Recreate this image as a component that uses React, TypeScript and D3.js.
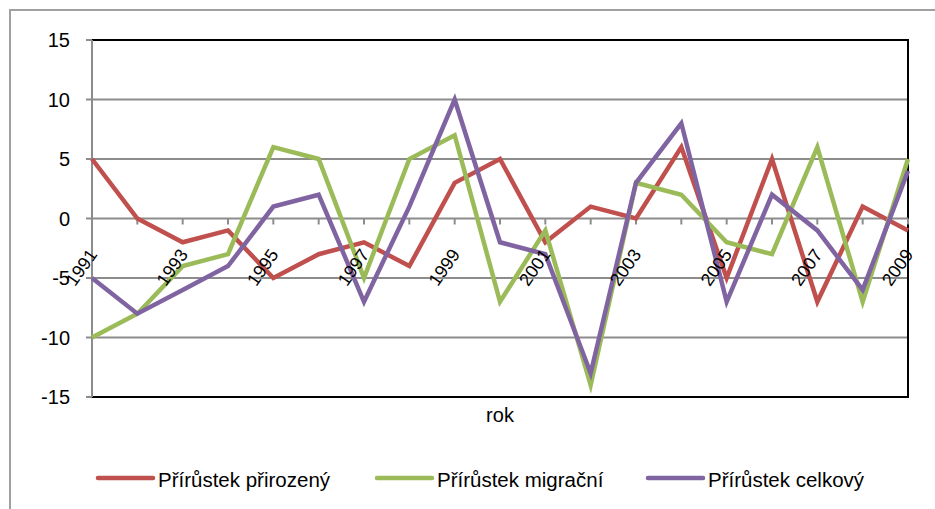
import React from "react";
import * as d3 from "d3";

const years = d3.range(1991, 2010).map(String);
const prirozeny = [5, 0, -2, -1, -5, -3, -2, -4, 3, 5, -2, 1, 0, 6, -5, 5, -7, 1, -1];
const migracni = [-10, -8, -4, -3, 6, 5, -5, 5, 7, -7, -1, -14, 3, 2, -2, -3, 6, -7, 5];
const celkovy = [-5, -8, -6, -4, 1, 2, -7, 1, 10, -2, -3, -13, 3, 8, -7, 2, -1, -6, 4];
const yTicks = [-15, -10, -5, 0, 5, 10, 15];
const seriesNames = ["Přírůstek přirozený", "Přírůstek migrační", "Přírůstek celkový"];
const seriesColors = ["#C0504D", "#9BBB59", "#8064A2"];
const xTitle = "rok";

const W = 935;
const H = 509;
const plot = { left: 92, right: 908, top: 40, bottom: 397 };
const FONT = "'Liberation Sans', Arial, sans-serif";

export default function App() {
  const x = d3.scalePoint<string>().domain(years).range([plot.left, plot.right]);
  const y = d3.scaleLinear().domain([-15, 15]).range([plot.bottom, plot.top]);
  const line = d3
    .line<number>()
    .x((_, i) => x(years[i]) as number)
    .y((d) => y(d));
  const series = [prirozeny, migracni, celkovy];
  const legendX = [98, 377, 648];

  return (
    <svg
      width={W}
      height={H}
      style={{ position: "absolute", left: 0, top: 0, background: "#fff" }}
      fontFamily={FONT}
    >
      <rect x={10} y={10} width={W + 20} height={H + 20} fill="#fff" stroke="#a0a0a0" strokeWidth={2} />

      {/* horizontal gridlines */}
      {yTicks
        .filter((t) => t !== 15 && t !== -15 && t !== 0)
        .map((t) => (
          <line key={t} x1={plot.left} x2={plot.right} y1={y(t)} y2={y(t)} stroke="#8c8c8c" strokeWidth={2} />
        ))}

      {/* plot border: top, right, bottom */}
      <path
        d={`M${plot.left},${plot.top}H${plot.right}V${plot.bottom}H${plot.left}`}
        fill="none"
        stroke="#000"
        strokeWidth={2}
      />

      {/* y axis */}
      <line x1={plot.left} x2={plot.left} y1={plot.top} y2={plot.bottom} stroke="#8c8c8c" strokeWidth={2} />
      {yTicks.map((t) => (
        <g key={t}>
          <line x1={plot.left - 6} x2={plot.left} y1={y(t)} y2={y(t)} stroke="#8c8c8c" strokeWidth={2} />
          <text x={70} y={y(t)} dy="0.36em" textAnchor="end" fontSize={20} fill="#000">
            {t}
          </text>
        </g>
      ))}

      {/* x axis at zero */}
      <line x1={plot.left} x2={plot.right} y1={y(0)} y2={y(0)} stroke="#8c8c8c" strokeWidth={2} />
      {years.map((yr) => (
        <line key={yr} x1={x(yr)} x2={x(yr)} y1={y(0)} y2={y(0) + 6} stroke="#8c8c8c" strokeWidth={2} />
      ))}

      {/* series lines */}
      {series.map((s, i) => (
        <path
          key={i}
          d={line(s) as string}
          fill="none"
          stroke={seriesColors[i]}
          strokeWidth={4.5}
          strokeLinejoin="miter"
        />
      ))}

      {/* category labels, every other year */}
      {years
        .filter((_, i) => i % 2 === 0)
        .map((yr) => (
          <text
            key={yr}
            transform={`translate(${(x(yr) as number) + 6},${y(0) + 36}) rotate(-55)`}
            textAnchor="end"
            fontSize={18}
            fill="#000"
          >
            {yr}
          </text>
        ))}

      <text x={(plot.left + plot.right) / 2} y={422} textAnchor="middle" fontSize={20} fill="#000">
        {xTitle}
      </text>

      {/* legend */}
      {seriesNames.map((name, i) => (
        <g key={name}>
          <line
            x1={legendX[i]}
            x2={legendX[i] + 55}
            y1={478}
            y2={478}
            stroke={seriesColors[i]}
            strokeWidth={4.5}
            strokeLinecap="round"
          />
          <text x={legendX[i] + 60} y={487} fontSize={20.5} fill="#000">
            {name}
          </text>
        </g>
      ))}
    </svg>
  );
}
